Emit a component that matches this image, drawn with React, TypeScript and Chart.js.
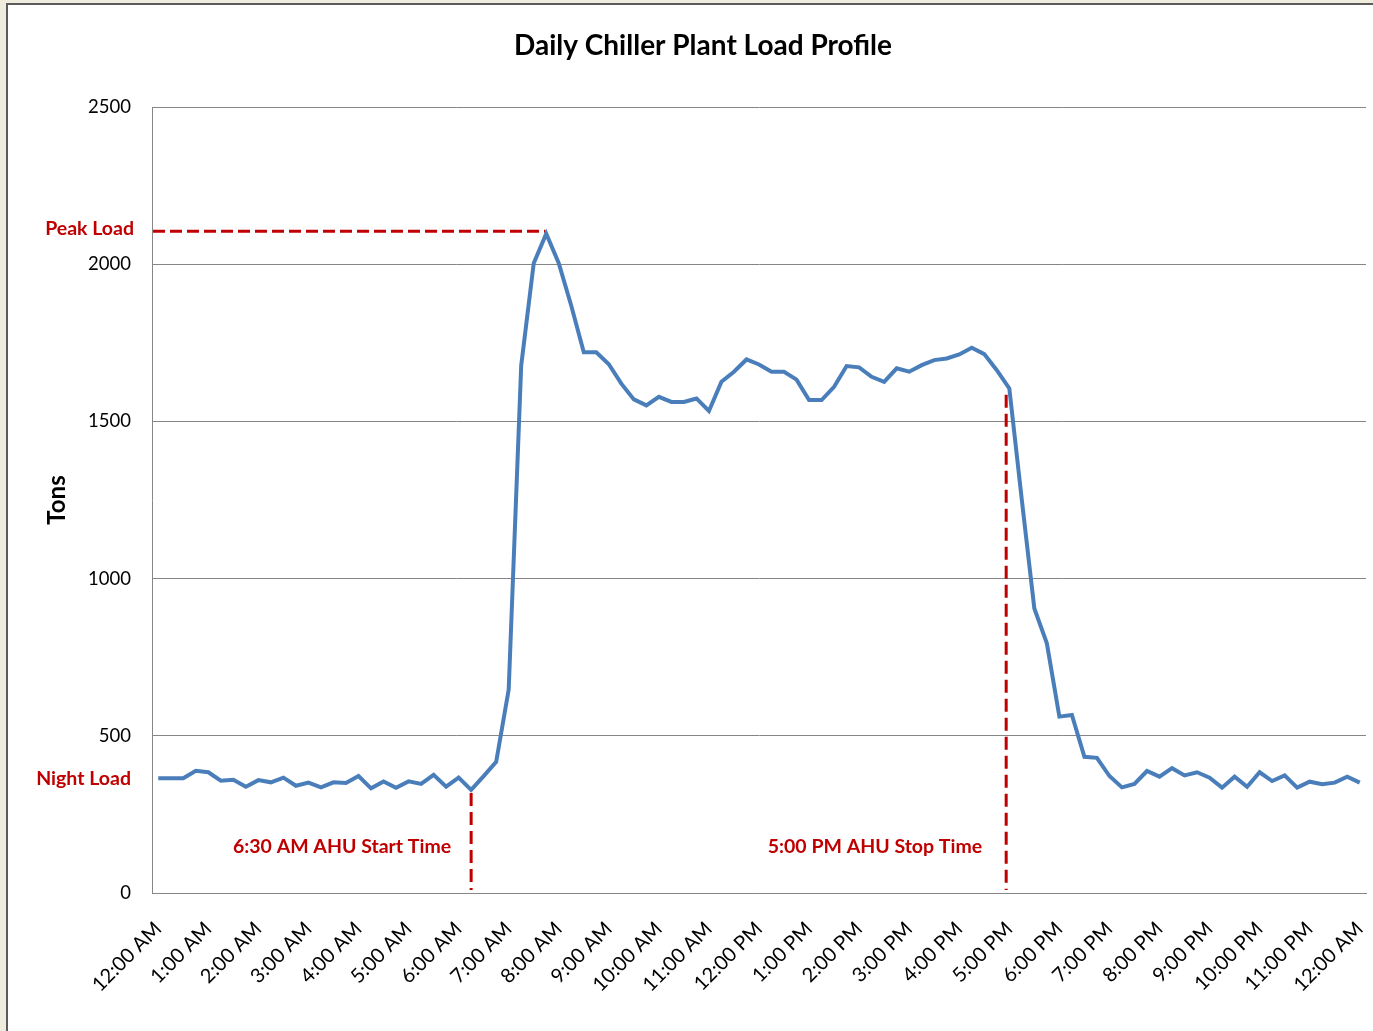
import React, { useEffect, useRef } from "react";
import { Chart, registerables } from "chart.js";

Chart.register(...registerables);

// ---- data ----
const HOUR_LABELS = [
  "12:00 AM", "1:00 AM", "2:00 AM", "3:00 AM", "4:00 AM", "5:00 AM", "6:00 AM",
  "7:00 AM", "8:00 AM", "9:00 AM", "10:00 AM", "11:00 AM", "12:00 PM", "1:00 PM",
  "2:00 PM", "3:00 PM", "4:00 PM", "5:00 PM", "6:00 PM", "7:00 PM", "8:00 PM",
  "9:00 PM", "10:00 PM", "11:00 PM", "12:00 AM",
];

// chiller load in tons, every 15 minutes from 12:00 AM to 12:00 AM (97 readings)
const LOAD_TONS = [
  365, 365, 365, 389, 384, 357, 360, 338, 359, 352, 367, 341, 351, 336, 352, 350,
  372, 333, 355, 335, 355, 347, 376, 338, 367, 328, 372, 417, 647, 1678, 2003, 2097,
  2003, 1868, 1720, 1720, 1682, 1620, 1570, 1551, 1578, 1562, 1562, 1573, 1533, 1626, 1658, 1697,
  1681, 1658, 1658, 1633, 1568, 1568, 1610, 1676, 1672, 1642, 1626, 1669, 1658, 1679, 1695, 1700,
  1713, 1734, 1714, 1663, 1605, 1250, 905, 794, 561, 566, 433, 430, 372, 336, 347, 388,
  370, 397, 374, 384, 367, 335, 370, 338, 384, 356, 374, 335, 354, 346, 351, 370,
  351,
];

const Y_MIN = 0;
const Y_MAX = 2500;
const Y_STEP = 500;

// annotation values
const PEAK_LOAD = 2105;
const PEAK_INDEX = 31;
const NIGHT_LOAD = 365;
const START_INDEX = 25;
const START_TOP = 318;
const STOP_INDEX = 67.75;
const STOP_TOP = 1585;
const NOTE_LEVEL = 146;

const TITLE = "Daily Chiller Plant Load Profile";
const Y_TITLE = "Tons";
const PEAK_TEXT = "Peak Load";
const NIGHT_TEXT = "Night Load";
const START_TEXT = "6:30 AM AHU Start Time";
const STOP_TEXT = "5:00 PM AHU Stop Time";

const FONT = "Lato, 'Open Sans', 'DejaVu Sans', sans-serif";
const RED = "#c00000";
const BLUE = "#4a7ebb";
const GRID = "#868686";

const W = 1373;
const H = 1031;

const annotationPlugin = {
  id: "chillerAnnotations",
  beforeDraw(chart: any) {
    const { ctx } = chart;
    ctx.save();
    ctx.fillStyle = "#ffffff";
    ctx.fillRect(0, 0, W, H);
    ctx.fillStyle = "#efebdd";
    ctx.fillRect(0, 0, 6, H);
    ctx.fillRect(0, 0, W, 3);
    ctx.fillStyle = "#5b5b5b";
    ctx.fillRect(6, 3, 2, H - 3);
    ctx.fillRect(6, 3, W - 6, 2);
    ctx.restore();
  },
  beforeDatasetsDraw(chart: any) {
    const { ctx, chartArea } = chart;
    const xs = chart.scales.x;
    const ys = chart.scales.y;
    ctx.save();
    ctx.strokeStyle = RED;
    ctx.lineWidth = 3;
    ctx.setLineDash([12, 5]);
    // peak load line
    const py = ys.getPixelForValue(PEAK_LOAD);
    ctx.beginPath();
    ctx.moveTo(chartArea.left + 1, py);
    ctx.lineTo(xs.getPixelForValue(PEAK_INDEX) - 1, py);
    ctx.stroke();
    // start time
    ctx.setLineDash([13, 6]);
    const sx = xs.getPixelForValue(START_INDEX);
    ctx.beginPath();
    ctx.moveTo(sx, ys.getPixelForValue(START_TOP));
    ctx.lineTo(sx, chartArea.bottom - 3);
    ctx.stroke();
    // stop time
    const ex = xs.getPixelForValue(STOP_INDEX);
    ctx.beginPath();
    ctx.moveTo(ex, ys.getPixelForValue(STOP_TOP));
    ctx.lineTo(ex, chartArea.bottom - 3);
    ctx.stroke();
    ctx.restore();
  },
  afterDraw(chart: any) {
    const { ctx, chartArea } = chart;
    const xs = chart.scales.x;
    const ys = chart.scales.y;
    ctx.save();
    // chart title
    ctx.fillStyle = "#000";
    ctx.font = `bold 28px ${FONT}`;
    ctx.textAlign = "center";
    ctx.textBaseline = "middle";
    ctx.fillText(TITLE, 703, 46);
    // red annotations
    ctx.fillStyle = RED;
    ctx.font = `bold 19.5px ${FONT}`;
    ctx.textAlign = "right";
    ctx.fillText(PEAK_TEXT, chartArea.left - 18, ys.getPixelForValue(PEAK_LOAD) - 2);
    ctx.fillText(NIGHT_TEXT, chartArea.left - 21, ys.getPixelForValue(NIGHT_LOAD));
    const noteY = ys.getPixelForValue(NOTE_LEVEL);
    ctx.fillText(START_TEXT, xs.getPixelForValue(START_INDEX) - 20, noteY);
    ctx.fillText(STOP_TEXT, xs.getPixelForValue(STOP_INDEX) - 24, noteY);
    ctx.restore();
  },
};

export default function App() {
  const ref = useRef<HTMLCanvasElement | null>(null);

  useEffect(() => {
    if (!ref.current) return;
    const chart = new Chart(ref.current, {
      type: "line",
      data: {
        labels: LOAD_TONS.map((_, i) => i),
        datasets: [
          {
            data: LOAD_TONS,
            borderColor: BLUE,
            borderWidth: 4,
            pointRadius: 0,
            tension: 0,
            fill: false,
          },
        ],
      },
      options: {
        responsive: false,
        animation: false,
        devicePixelRatio: 1,
        layout: { padding: { left: 0, right: 7, top: 107, bottom: 0 } },
        plugins: {
          legend: { display: false },
          tooltip: { enabled: false },
          title: { display: false },
        },
        scales: {
          x: {
            type: "category",
            offset: true,
            grid: { display: false, drawTicks: false },
            border: { display: true, color: GRID, width: 1 },
            ticks: {
              autoSkip: false,
              maxRotation: 45,
              minRotation: 45,
              padding: 24,
              color: "#000",
              font: { family: FONT, size: 20 },
              callback: (_v: any, i: number) => (i % 4 === 0 ? HOUR_LABELS[i / 4] : null),
            },
            afterFit: (s: any) => {
              s.height = 138;
              s.paddingLeft = 0;
              s.paddingRight = 0;
            },
          },
          y: {
            min: Y_MIN,
            max: Y_MAX,
            grid: { color: GRID, lineWidth: 1, drawTicks: false },
            border: { display: true, color: GRID, width: 1 },
            ticks: {
              stepSize: Y_STEP,
              padding: 21,
              color: "#000",
              font: { family: FONT, size: 18.5 },
              callback: (v: any) => String(v),
            },
            title: {
              display: true,
              text: Y_TITLE,
              color: "#000",
              font: { family: FONT, size: 24, weight: "bold", lineHeight: 1.2 },
              padding: { top: 43, bottom: 0 },
            },
            afterFit: (s: any) => {
              s.width = 152;
              s.paddingTop = 0;
              s.paddingBottom = 0;
            },
          },
        },
      },
      plugins: [annotationPlugin],
    });
    return () => chart.destroy();
  }, []);

  return (
    <div style={{ position: "fixed", left: 0, top: 0, width: W, height: H }}>
      <canvas ref={ref} width={W} height={H} style={{ width: W, height: H, display: "block" }} />
    </div>
  );
}
